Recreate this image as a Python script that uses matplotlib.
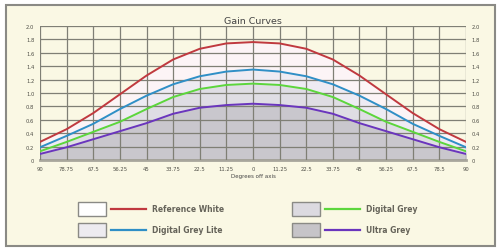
import numpy as np
import matplotlib.pyplot as plt
from matplotlib.patches import Rectangle
from matplotlib.lines import Line2D

## data
angles = [-90, -78.75, -67.5, -56.25, -45, -33.75, -22.5, -11.25, 0,
          11.25, 22.5, 33.75, 45, 56.25, 67.5, 78.75, 90]
angle_labels = ["90", "78.75", "67.5", "56.25", "45", "33.75", "22.5", "11.25", "0",
                "11.25", "22.5", "33.75", "45", "56.25", "67.5", "78.5", "90"]
half_white = [0.27, 0.46, 0.70, 0.98, 1.26, 1.50, 1.66, 1.74, 1.76]
half_lite = [0.19, 0.36, 0.54, 0.76, 0.96, 1.13, 1.25, 1.32, 1.35]
half_grey = [0.13, 0.27, 0.42, 0.57, 0.76, 0.94, 1.06, 1.12, 1.14]
half_ultra = [0.09, 0.19, 0.31, 0.43, 0.55, 0.69, 0.78, 0.82, 0.84]
names = ["Reference White", "Digital Grey Lite", "Digital Grey", "Ultra Grey"]
y_ticks = [0, 0.2, 0.4, 0.6, 0.8, 1.0, 1.2, 1.4, 1.6, 1.8, 2.0]
y_labels = ["0", "0.2", "0.4", "0.6", "0.8", "1.0", "1.2", "1.4", "1.6", "1.8", "2.0"]

def mirror(h):
    return h + h[-2::-1]

series = [mirror(half_white), mirror(half_lite), mirror(half_grey), mirror(half_ultra)]
line_colors = ["#c0393f", "#2f8fc6", "#5cd63c", "#6a35bd"]
fill_colors = ["#fcf4f6", "#eeebf3", "#dfdde4", "#c9c7cd"]
box_colors = ["#ffffff", "#edebf0", "#dcdae0", "#c6c4c8"]

W, H = 500, 251
cream = "#faf8e4"
grid_c = "#7f7f75"
txt_c = "#505048"

fig = plt.figure(figsize=(W / 100, H / 100), dpi=100)
fig.patch.set_facecolor("white")

## panel frame (behind the axes)
fig.patches.append(Rectangle((6 / W, 1 - 247 / H), 489 / W, 241 / H, transform=fig.transFigure,
                             facecolor=cream, edgecolor="#8a8a85", linewidth=1.5, zorder=-5))

ax = fig.add_axes([40 / W, 1 - 161 / H, 426 / W, 134 / H])
ax.set_facecolor(cream)
for s, f in zip(series, fill_colors):
    ax.fill_between(angles, 0, s, color=f, zorder=1)
ax.set_xlim(-90, 90)
ax.set_ylim(0, 2.0)
ax.set_xticks(angles)
ax.set_xticklabels(angle_labels)
ax.set_yticks(y_ticks)
ax.set_yticklabels(y_labels)
ax.grid(True, color=grid_c, linewidth=0.9, zorder=2)
ax.set_axisbelow(False)
for s, c in zip(series, line_colors):
    ax.plot(angles, s, color=c, linewidth=1.4, zorder=3)
for sp in ax.spines.values():
    sp.set_visible(False)
ax.spines["bottom"].set_visible(True)
ax.spines["bottom"].set_color("#a8a69c")
ax.spines["bottom"].set_linewidth(2.0)
ax.tick_params(length=0, labelsize=3.8, colors=txt_c, pad=4,
               labelright=True, right=False)
ax.set_title("Gain Curves", fontsize=6.8, color="#444444", pad=2)
ax.set_xlabel("Degrees off axis", fontsize=4, color="#444444", labelpad=2)

## legend
pos = [(78, 210, 0), (78, 231, 1), (292, 210, 2), (292, 231, 3)]
for x0, yc, i in pos:
    fig.patches.append(Rectangle((x0 / W, 1 - (yc + 7) / H), 28 / W, 14 / H,
                                 transform=fig.transFigure, facecolor=box_colors[i],
                                 edgecolor="#8a8a85", linewidth=1.0))
    fig.lines.append(Line2D([(x0 + 33) / W, (x0 + 68) / W], [1 - yc / H, 1 - yc / H],
                            transform=fig.transFigure, color=line_colors[i], linewidth=1.6))
    fig.text((x0 + 74) / W, 1 - yc / H, names[i], fontsize=5.5, fontweight="bold",
             color="#66645a", va="center", ha="left")

fig.savefig("out.png", dpi=100, facecolor="white")
